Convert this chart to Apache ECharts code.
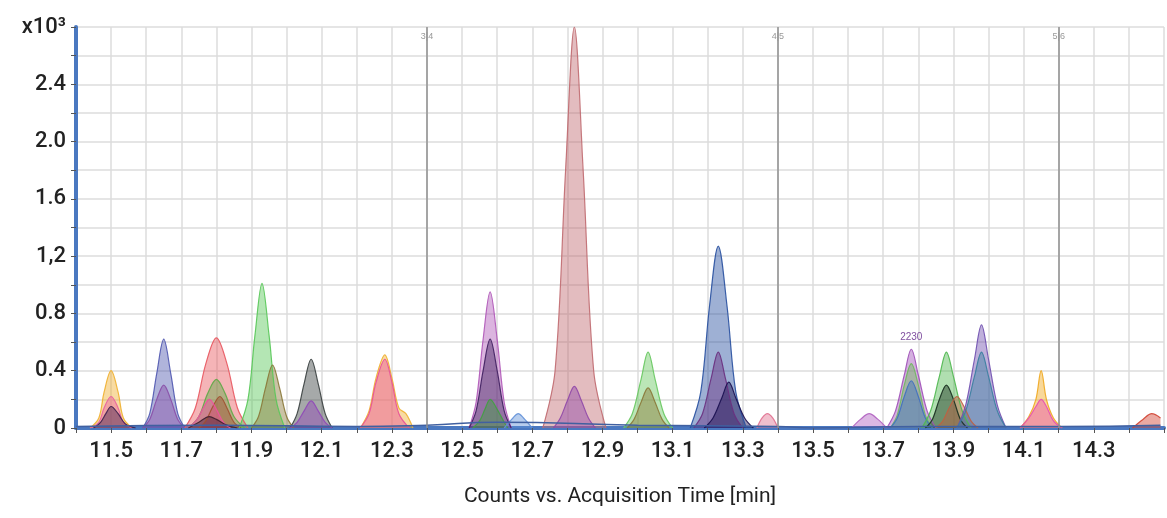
<!DOCTYPE html>
<html><head><meta charset="utf-8">
<script src="https://cdn.jsdelivr.net/npm/echarts@6/dist/echarts.min.js"></script>
<style>html,body{margin:0;background:#fff}#c{width:1167px;height:518px}</style>
</head><body><div id="c"></div>
<script>
// retention time [min] / counts (x10^3), one list per trace
const orange115 = [[11.44,0],[11.465,0.07],[11.48,0.25],[11.50,0.40],[11.52,0.25],[11.535,0.07],[11.56,0]];
const pink115 = [[11.44,0],[11.465,0.04],[11.48,0.14],[11.50,0.22],[11.52,0.14],[11.535,0.04],[11.56,0]];
const dark115 = [[11.45,0],[11.47,0.04],[11.485,0.1],[11.50,0.15],[11.52,0.1],[11.54,0.03],[11.57,0]];
const blue1165 = [[11.59,0],[11.61,0.1],[11.63,0.38],[11.65,0.62],[11.67,0.38],[11.69,0.1],[11.71,0]];
const purple1165 = [[11.59,0],[11.61,0.06],[11.63,0.2],[11.65,0.30],[11.67,0.2],[11.69,0.06],[11.71,0]];
const red118 = [[11.71,0],[11.74,0.14],[11.77,0.45],[11.80,0.63],[11.83,0.45],[11.86,0.14],[11.89,0]];
const green118 = [[11.72,0],[11.75,0.08],[11.775,0.24],[11.80,0.34],[11.825,0.24],[11.85,0.08],[11.88,0]];
const brown118 = [[11.75,0],[11.77,0.05],[11.79,0.15],[11.81,0.22],[11.83,0.14],[11.85,0.04],[11.87,0]];
const pink118 = [[11.72,0],[11.745,0.06],[11.765,0.15],[11.78,0.2],[11.80,0.13],[11.82,0.04],[11.84,0]];
const dark118 = [[11.72,0],[11.75,0.04],[11.78,0.08],[11.80,0.06],[11.83,0.02],[11.86,0]];
const green1193 = [[11.865,0],[11.89,0.2],[11.91,0.65],[11.93,1.01],[11.95,0.65],[11.97,0.2],[11.995,0]];
const olive1196 = [[11.90,0],[11.92,0.08],[11.94,0.28],[11.96,0.44],[11.98,0.28],[12.00,0.08],[12.02,0]];
const gray1207 = [[12.01,0],[12.03,0.1],[12.05,0.31],[12.07,0.48],[12.09,0.31],[12.11,0.1],[12.13,0]];
const purple1207 = [[12.01,0],[12.03,0.04],[12.05,0.12],[12.07,0.19],[12.09,0.12],[12.11,0.04],[12.13,0]];
const orange1228 = [[12.21,0],[12.235,0.12],[12.255,0.35],[12.28,0.51],[12.30,0.35],[12.32,0.14],[12.34,0.1],[12.36,0]];
const pink1228 = [[12.21,0],[12.235,0.1],[12.255,0.32],[12.28,0.48],[12.30,0.32],[12.32,0.1],[12.35,0]];
const purple1258 = [[12.52,0],[12.54,0.18],[12.56,0.62],[12.58,0.95],[12.60,0.62],[12.62,0.18],[12.64,0]];
const dpurple1258 = [[12.52,0],[12.54,0.12],[12.56,0.4],[12.58,0.62],[12.60,0.4],[12.62,0.12],[12.64,0]];
const green1258 = [[12.53,0],[12.55,0.05],[12.565,0.13],[12.58,0.2],[12.60,0.13],[12.62,0.04],[12.63,0]];
const blue1266 = [[12.62,0],[12.645,0.07],[12.66,0.1],[12.675,0.07],[12.70,0]];
const rose1282 = [[12.73,0],[12.765,0.4],[12.795,1.8],[12.82,2.8],[12.845,1.8],[12.875,0.4],[12.91,0]];
const purple1282 = [[12.76,0],[12.78,0.07],[12.80,0.19],[12.82,0.29],[12.84,0.19],[12.86,0.07],[12.88,0]];
const green1303 = [[12.96,0],[12.985,0.1],[13.01,0.34],[13.03,0.53],[13.05,0.34],[13.075,0.1],[13.10,0]];
const olive1303 = [[12.97,0],[12.99,0.06],[13.01,0.18],[13.03,0.28],[13.05,0.18],[13.07,0.06],[13.09,0]];
const blue1323 = [[13.15,0],[13.18,0.25],[13.205,0.85],[13.23,1.27],[13.255,0.85],[13.28,0.25],[13.31,0]];
const purple1323 = [[13.16,0],[13.185,0.1],[13.21,0.35],[13.23,0.53],[13.25,0.35],[13.275,0.1],[13.30,0]];
const navy1326 = [[13.19,0],[13.215,0.07],[13.24,0.21],[13.26,0.32],[13.28,0.21],[13.305,0.07],[13.33,0]];
const pink1337 = [[13.34,0],[13.355,0.07],[13.37,0.1],[13.385,0.07],[13.40,0]];
const purple1366 = [[13.61,0],[13.635,0.06],[13.66,0.1],[13.685,0.06],[13.71,0]];
const purple1378 = [[13.71,0],[13.735,0.12],[13.76,0.37],[13.78,0.55],[13.80,0.37],[13.825,0.12],[13.85,0]];
const green1378 = [[13.72,0],[13.74,0.09],[13.76,0.3],[13.78,0.45],[13.80,0.3],[13.82,0.09],[13.84,0]];
const blue1378 = [[13.72,0],[13.74,0.07],[13.76,0.22],[13.78,0.33],[13.80,0.22],[13.82,0.07],[13.84,0]];
const green1388 = [[13.81,0],[13.835,0.12],[13.86,0.36],[13.88,0.53],[13.90,0.36],[13.925,0.12],[13.95,0]];
const dark1388 = [[13.82,0],[13.84,0.06],[13.86,0.2],[13.88,0.3],[13.90,0.2],[13.92,0.06],[13.94,0]];
const brown1391 = [[13.85,0],[13.87,0.05],[13.89,0.15],[13.91,0.22],[13.93,0.15],[13.95,0.05],[13.97,0]];
const purple1398 = [[13.91,0],[13.935,0.16],[13.96,0.48],[13.98,0.72],[14.00,0.48],[14.025,0.16],[14.05,0]];
const teal1398 = [[13.91,0],[13.935,0.12],[13.96,0.36],[13.98,0.53],[14.00,0.36],[14.025,0.12],[14.05,0]];
const orange1415 = [[14.09,0],[14.115,0.08],[14.135,0.2],[14.15,0.4],[14.165,0.2],[14.185,0.07],[14.21,0]];
const pink1415 = [[14.09,0],[14.115,0.07],[14.135,0.15],[14.15,0.2],[14.165,0.15],[14.185,0.05],[14.21,0]];
const red1447 = [[14.41,0],[14.44,0.06],[14.465,0.1],[14.49,0.07]];
const baseline = [[11.4,0.01],[11.8,0.02],[12.2,0.01],[12.4,0.02],[12.6,0.04],[13.0,0.02],[13.4,0.01],[13.5,0.0],[13.8,0.01],[14.2,0.01],[14.49,0.02]];

const segmentBreaks = [[12.4,'3|4'],[13.4,'4|5'],[14.2,'5|6']];
const yTickLabels = {0:'0',0.4:'0.4',0.8:'0.8',1.2:'1,2',1.6:'1.6',2:'2.0',2.4:'2.4',2.8:'x10³'};

const traces = [
  [orange115,'#f0b030'],[pink115,'#e860a0'],[dark115,'#402050'],
  [blue1165,'#5058b0'],[purple1165,'#8a50a8'],
  [red118,'#e85860'],[green118,'#60a848'],[brown118,'#a05030'],[pink118,'#f050a0'],[dark118,'#402030'],
  [green1193,'#58c858'],[olive1196,'#8a7838'],
  [gray1207,'#3a4040'],[purple1207,'#9048b8'],
  [orange1228,'#f0b030'],[pink1228,'#e85098'],
  [purple1258,'#b058b8'],[dpurple1258,'#402060'],[green1258,'#40a040'],[blue1266,'#6090d8'],
  [rose1282,'#c06a70'],[purple1282,'#9048a8'],
  [green1303,'#68c860'],[olive1303,'#8a7838'],
  [blue1323,'#2850a0'],[purple1323,'#6a3080'],[navy1326,'#1a1050'],
  [pink1337,'#e07090'],[purple1366,'#b060c0'],
  [purple1378,'#a050b8'],[green1378,'#70b860'],[blue1378,'#4070c0'],
  [green1388,'#50b850'],[dark1388,'#1a3020'],[brown1391,'#c06040'],
  [purple1398,'#7050b0'],[teal1398,'#3a80a0'],
  [orange1415,'#f0a820'],[pink1415,'#e850b0'],[red1447,'#d04030']
];

const series = traces.map(([d, c]) => ({
  type: 'line', data: d, smooth: 0.35, symbol: 'none',
  lineStyle: {color: c, width: 1.2, opacity: 0.9},
  areaStyle: {color: c, opacity: 0.45}
}));
series.push({type: 'line', data: baseline, smooth: true, symbol: 'none',
  lineStyle: {color: '#4060a0', width: 1.5}});
series.push({type: 'line', data: [], markLine: {
  symbol: 'none', silent: true,
  lineStyle: {color: '#909090', width: 1.5, type: 'solid'},
  label: {position: 'end', distance: [0, -14], color: '#999', fontSize: 9, formatter: p => p.name},
  data: segmentBreaks.map(([x, n]) => ({xAxis: x, name: n}))
}, markPoint: {
  symbol: 'circle', symbolSize: 0,
  label: {show: true, color: '#8050a0', fontSize: 10, formatter: '2230', offset: [0, -12]},
  data: [{coord: [13.78, 0.55]}]
}});

const chart = echarts.init(document.getElementById('c'));
chart.setOption({
  animation: false,
  grid: {left: 76, right: 2, top: 27, bottom: 90},
  xAxis: {
    type: 'value', min: 11.4, max: 14.5, interval: 0.1,
    name: 'Counts vs. Acquisition Time [min]', nameLocation: 'middle', nameGap: 58,
    nameTextStyle: {fontFamily: 'Roboto', fontSize: 21, color: '#222'},
    axisLine: {lineStyle: {color: '#4a78c0', width: 4}},
    axisTick: {length: 5, lineStyle: {color: '#555'}},
    axisLabel: {fontFamily: 'Roboto', fontSize: 22, fontWeight: 500, color: '#222', margin: 12,
      formatter: v => (Math.round(v * 10) % 2 === 1 && v < 14.45 ? v.toFixed(1) : '')},
    splitLine: {lineStyle: {color: '#dcdcdc', width: 1.5}}
  },
  yAxis: {
    type: 'value', min: 0, max: 2.8, interval: 0.2,
    axisLine: {show: true, lineStyle: {color: '#4a78c0', width: 4}},
    axisTick: {show: true, length: 5, lineStyle: {color: '#555'}},
    axisLabel: {fontFamily: 'Roboto', fontSize: 22, fontWeight: 500, color: '#222', margin: 10,
      formatter: v => yTickLabels[Math.round(v * 10) / 10] || ''},
    splitLine: {lineStyle: {color: '#dcdcdc', width: 1.5}}
  },
  series: series
});
</script></body></html>
